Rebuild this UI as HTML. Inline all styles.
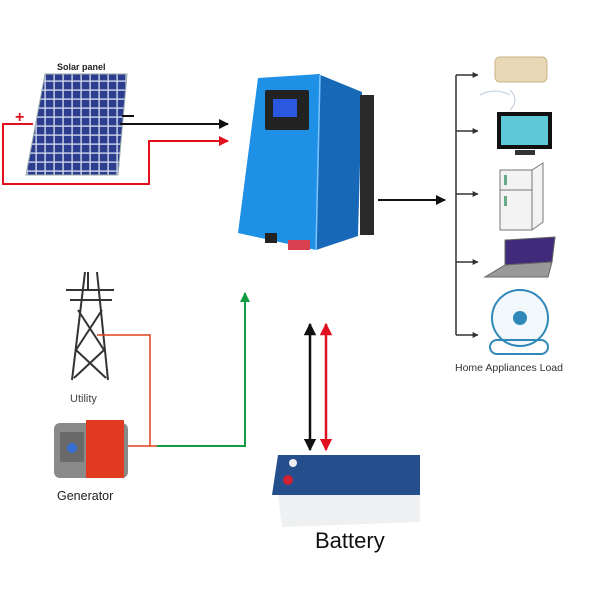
<!DOCTYPE html>
<html><head><style>body{margin:0;background:#fff}svg{display:block}</style></head><body>
<svg width="600" height="600" xmlns="http://www.w3.org/2000/svg" font-family="Liberation Sans, sans-serif">
<defs>
<marker id="ab" viewBox="0 0 10 10" refX="9" refY="5" markerWidth="5" markerHeight="5" orient="auto-start-reverse"><path d="M0,0L10,5L0,10z" fill="#111"/></marker>
<marker id="ag" viewBox="0 0 10 10" refX="9" refY="5" markerWidth="5" markerHeight="5" orient="auto"><path d="M0,0L10,5L0,10z" fill="#129a45"/></marker>
<marker id="ar" viewBox="0 0 10 10" refX="9" refY="5" markerWidth="5" markerHeight="5" orient="auto-start-reverse"><path d="M0,0L10,5L0,10z" fill="#e0101e"/></marker>
<marker id="ad" viewBox="0 0 10 10" refX="9" refY="5" markerWidth="4" markerHeight="4" orient="auto"><path d="M0,0L10,5L0,10z" fill="#333"/></marker>
<pattern id="cells" width="9" height="9" patternUnits="userSpaceOnUse"><rect width="9" height="9" fill="#cfd6ea"/><rect x="0.8" y="0.8" width="7.6" height="7.6" fill="#2c3d8f"/></pattern>
</defs>
<text x="57" y="70" font-size="9" font-weight="bold" fill="#222">Solar panel</text>
<polygon points="45,74 127,74 118,175 26,175" fill="url(#cells)" stroke="#9aa" stroke-width="1"/>
<text x="15" y="122" font-size="16" fill="#e0101e" font-weight="bold">+</text>
<line x1="122" y1="116" x2="134" y2="116" stroke="#111" stroke-width="2"/>
<line x1="120" y1="124" x2="228" y2="124" stroke="#111" stroke-width="2" marker-end="url(#ab)"/>
<polyline points="33,124 3,124 3,184 149,184 149,141 228,141" fill="none" stroke="#e0101e" stroke-width="2" marker-end="url(#ar)"/>
<polygon points="318,74 362,92 358,236 316,250" fill="#1769b8"/>
<rect x="360" y="95" width="14" height="140" fill="#2a2a2a"/>
<polygon points="258,78 320,74 316,250 238,233" fill="#1e90e6"/>
<line x1="320" y1="75" x2="316" y2="250" stroke="#7cc4ff" stroke-width="1.5"/>
<rect x="265" y="90" width="44" height="40" fill="#222" rx="2"/>
<rect x="273" y="99" width="24" height="18" fill="#2a58e0"/>
<rect x="265" y="233" width="12" height="10" fill="#222"/>
<rect x="288" y="240" width="22" height="10" fill="#d94050"/>
<line x1="378" y1="200" x2="445" y2="200" stroke="#111" stroke-width="2" marker-end="url(#ab)"/>
<line x1="456" y1="75" x2="456" y2="335" stroke="#333" stroke-width="1.5"/>
<g stroke="#333" stroke-width="1.5" marker-end="url(#ad)">
<line x1="456" y1="75" x2="478" y2="75"/><line x1="456" y1="131" x2="478" y2="131"/><line x1="456" y1="194" x2="478" y2="194"/><line x1="456" y1="262" x2="478" y2="262"/><line x1="456" y1="335" x2="478" y2="335"/></g>
<rect x="495" y="57" width="52" height="25" rx="5" fill="#e8d8b5" stroke="#c9b48a"/>
<path d="M480,95 q15,-8 30,0 M510,90 q10,10 0,20" stroke="#bcd" fill="none"/>
<rect x="497" y="112" width="55" height="37" fill="#111"/><rect x="501" y="116" width="47" height="29" fill="#5ec7d8"/>
<rect x="515" y="150" width="20" height="5" fill="#333"/>
<polygon points="500,170 532,170 543,163 543,222 532,230 500,230" fill="#f3f3f3" stroke="#777"/>
<line x1="500" y1="190" x2="532" y2="190" stroke="#777"/><line x1="532" y1="170" x2="532" y2="230" stroke="#777"/>
<rect x="504" y="175" width="3" height="10" fill="#6a8"/><rect x="504" y="196" width="3" height="10" fill="#6a8"/>
<polygon points="505,240 555,237 552,262 505,265" fill="#402a7a" stroke="#666"/>
<polygon points="505,265 552,262 548,277 485,277" fill="#999" stroke="#666"/>
<circle cx="520" cy="318" r="28" fill="#f3f8fc" stroke="#2f88b8" stroke-width="2"/>
<circle cx="520" cy="318" r="7" fill="#2f88b8"/>
<rect x="490" y="340" width="58" height="14" rx="7" fill="none" stroke="#2f88b8" stroke-width="2"/>
<text x="455" y="371" font-size="10.5" fill="#333">Home Appliances Load</text>
<g stroke="#333" stroke-width="2" fill="none">
<path d="M85,272 L72,380 M97,272 L108,380 M66,290 H114 M70,300 H112 M88,272 V290 M78,310 L104,350 M102,310 L76,350 M76,350 L106,378 M104,350 L74,378"/></g>
<text x="70" y="402" font-size="11" fill="#444">Utility</text>
<polyline points="97,335 150,335 150,446" fill="none" stroke="#e0401e" stroke-width="1.5"/>
<rect x="54" y="423" width="74" height="55" rx="6" fill="#8a8a8a"/>
<rect x="86" y="420" width="38" height="58" fill="#e03a20"/>
<rect x="60" y="432" width="24" height="30" fill="#6a6a6a"/>
<circle cx="72" cy="448" r="5" fill="#3a6fd0"/>
<text x="57" y="500" font-size="12.5" fill="#222">Generator</text>
<line x1="128" y1="446" x2="157" y2="446" stroke="#e0401e" stroke-width="1.5"/>
<polyline points="157,446 245,446 245,293" fill="none" stroke="#129a45" stroke-width="2" marker-end="url(#ag)"/>
<line x1="310" y1="324" x2="310" y2="450" stroke="#111" stroke-width="2.5" marker-start="url(#ab)" marker-end="url(#ab)"/>
<line x1="326" y1="324" x2="326" y2="450" stroke="#e0101e" stroke-width="2.5" marker-start="url(#ar)" marker-end="url(#ar)"/>
<polygon points="278,455 420,455 420,522 282,527 278,495" fill="#eef0f2"/>
<polygon points="278,455 420,455 420,495 272,495" fill="#244e8c"/>
<circle cx="293" cy="463" r="4" fill="#eee"/><circle cx="288" cy="480" r="5" fill="#d02030"/>
<text x="315" y="548" font-size="22" fill="#111">Battery</text>
</svg>
</body></html>
